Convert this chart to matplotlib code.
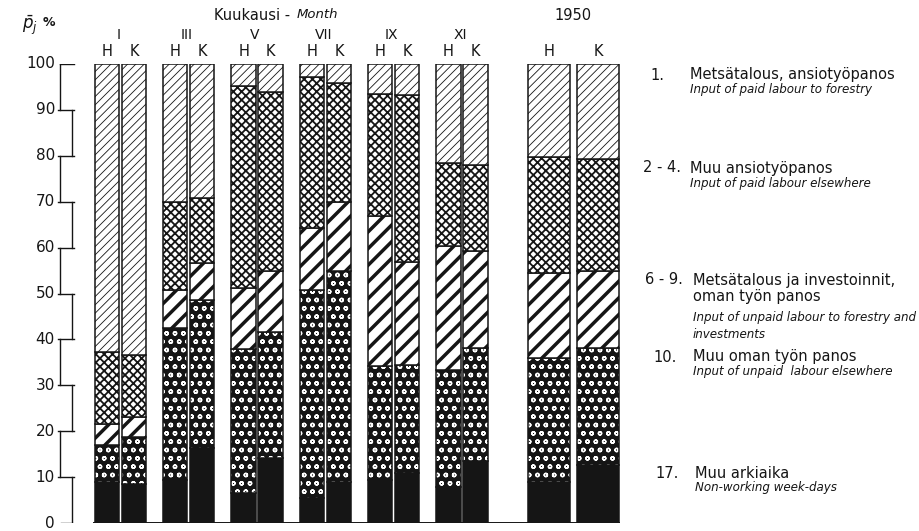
import matplotlib
matplotlib.use("Agg")
import matplotlib.pyplot as plt

# Months shown and the annual column
months = ["I", "III", "V", "VII", "IX", "XI"]
year_label = "1950"
sexes = ["H", "K"]

# Shares of working-day time (%), one value per bar:
# I-H, I-K, III-H, III-K, V-H, V-K, VII-H, VII-K, IX-H, IX-K, XI-H, XI-K, 1950-H, 1950-K
muu_arkiaika = [9.0, 8.5, 9.4, 16.3, 6.6, 14.1, 5.4, 9.0, 9.4, 10.8, 7.9, 13.4, 9.0, 12.6]
muu_oma_tyo = [8.0, 10.3, 33.0, 32.3, 31.2, 27.6, 45.4, 45.8, 24.7, 23.6, 25.4, 24.7, 26.9, 25.5]
metsa_oma_tyo = [4.6, 4.4, 8.4, 8.1, 13.5, 13.1, 13.5, 15.2, 32.8, 22.4, 27.0, 21.2, 18.5, 16.7]
muu_ansiotyo = [15.7, 13.4, 19.1, 14.2, 43.9, 39.0, 32.9, 25.8, 26.5, 36.4, 18.1, 18.7, 25.4, 24.4]
metsa_ansiotyo = [62.7, 63.4, 30.1, 29.1, 4.8, 6.2, 2.8, 4.2, 6.6, 6.8, 21.6, 22.0, 20.2, 20.8]

yticks = list(range(0, 101, 10))

W, H = 920, 531
fig = plt.figure(figsize=(W / 100, H / 100), dpi=100)
fig.patch.set_facecolor("white")
ax = fig.add_axes([0, 8 / H, 1, 459 / H])
ax.set_xlim(0, W)
ax.set_ylim(0, 100)
ax.axis("off")

INK = "#151515"

# bar positions (horizontal layout in pixel units)
month_w, month_off, month_step, month_x0 = 24.3, 13.5, 68.3, 120.5
year_w, year_off, year_c = 42, 24.5, 573.5
xs, widths = [], []
for i in range(len(months)):
    c = month_x0 + month_step * i
    xs += [c - month_off, c + month_off]
    widths += [month_w, month_w]
xs += [year_c - year_off, year_c + year_off]
widths += [year_w, year_w]

# (values, face colour, hatch colour, hatch, hatch linewidth), bottom to top
layers = [
    (muu_arkiaika, INK, INK, None, 1.0),
    (muu_oma_tyo, INK, "white", "oo", 1.0),
    (metsa_oma_tyo, "white", INK, "//", 2.5),
    (muu_ansiotyo, "white", INK, "xxxx", 1.3),
    (metsa_ansiotyo, "white", INK, "////", 0.6),
]

bottom = [0.0] * len(xs)
for vals, face, hcol, hatch, hlw in layers:
    with plt.rc_context({"hatch.linewidth": hlw}):
        bars = ax.bar(xs, vals, bottom=bottom, width=widths, color=face,
                      edgecolor=hcol, linewidth=0, hatch=hatch)
        for r in bars:
            if hasattr(r, "set_hatch_linewidth"):
                r.set_hatch_linewidth(hlw)
    ax.bar(xs, vals, bottom=bottom, width=widths, fill=False,
           edgecolor=INK, linewidth=1.1)
    bottom = [b + v for b, v in zip(bottom, vals)]

# baseline
ax.plot([xs[0] - widths[0] / 2 - 2, xs[-1] + widths[-1] / 2 + 1], [0, 0],
        color=INK, lw=1.4, solid_capstyle="butt")

# stepped value axis
xl, xr = 60, 72
for k in range(10):
    top, low = 100 - 10 * k, 100 - 10 * (k + 1)
    xv = xl if k % 2 == 0 else xr
    ax.plot([xv, xv], [low, top], color=INK, lw=1.0)
for t in yticks:
    if t == 100:
        ax.plot([xl, xr + 2], [t, t], color=INK, lw=1.0)
    elif t == 0:
        ax.plot([xl + 1, xr], [t, t], color=INK, lw=1.0)
    else:
        ax.plot([xl - 2, xr + 2], [t, t], color=INK, lw=1.0)


def fx(px):
    return px / W


def fy(py):
    return 1 - py / H


def y_of(v):
    return 523 - v * 4.59


for t in yticks:
    fig.text(fx(55), fy(y_of(t)), str(t), ha="right", va="center",
             fontsize=11, color=INK)

fig.text(fx(22), fy(25), r"$\bar{p}_j$", ha="left", va="center",
         fontsize=12, color=INK)
fig.text(fx(43), fy(22), "%", ha="left", va="center", fontsize=9,
         color=INK, fontweight="bold")

# headings
fig.text(fx(290), fy(15), "Kuukausi -", ha="right", va="center",
         fontsize=10.5, color=INK)
fig.text(fx(297), fy(15), "Month", ha="left", va="center", fontsize=9.5,
         style="italic", color=INK)
for i, m in enumerate(months):
    c = month_x0 + month_step * i
    fig.text(fx(c - 2), fy(35), m, ha="center", va="center", fontsize=10,
             color=INK)
fig.text(fx(year_c), fy(15), year_label, ha="center", va="center",
         fontsize=10.5, color=INK)
for j, x in enumerate(xs):
    fig.text(fx(x), fy(52), sexes[j % 2], ha="center", va="center",
             fontsize=10.5, color=INK)

# legend texts
legend = [
    ("1.", 650, 75, ["Metsätalous, ansiotyöpanos"], 690,
     ["Input of paid labour to forestry"]),
    ("2 - 4.", 643, 168, ["Muu ansiotyöpanos"], 690,
     ["Input of paid labour elsewhere"]),
    ("6 - 9.", 645, 280, ["Metsätalous ja investoinnit,", "oman työn panos"], 693,
     ["Input of unpaid labour to forestry and", "investments"]),
    ("10.", 653, 357, ["Muu oman työn panos"], 693,
     ["Input of unpaid  labour elsewhere"]),
    ("17.", 655, 473, ["Muu arkiaika"], 695,
     ["Non-working week-days"]),
]
for num, nx, y0, fi_lines, tx, en_lines in legend:
    fig.text(fx(nx), fy(y0), num, ha="left", va="center", fontsize=10.5,
             color=INK)
    y = y0
    for ln in fi_lines:
        fig.text(fx(tx), fy(y), ln, ha="left", va="center", fontsize=10.5,
                 color=INK)
        y += 17
    y += 4 if len(fi_lines) > 1 else -2
    for ln in en_lines:
        fig.text(fx(tx), fy(y), ln, ha="left", va="center", fontsize=8.6,
                 style="italic", color=INK)
        y += 17

fig.savefig("out.png", dpi=100, facecolor="white")
